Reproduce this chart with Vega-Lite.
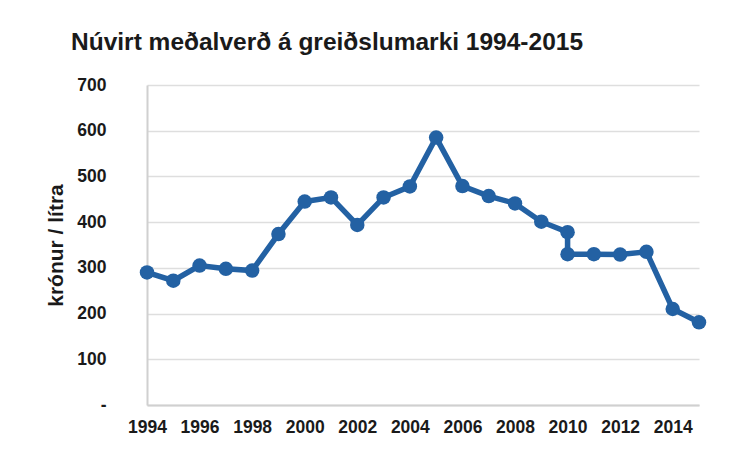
{
  "$schema": "https://vega.github.io/schema/vega-lite/v6.json",
  "width": 552,
  "height": 320,
  "autosize": {"type": "none"},
  "padding": {"left": 147, "top": 85, "right": 51, "bottom": 44},
  "background": "white",
  "title": {
    "text": "Núvirt meðalverð á greiðslumarki 1994-2015",
    "anchor": "start",
    "frame": "group",
    "dx": -76,
    "offset": 21,
    "font": "Liberation Sans",
    "fontSize": 24.5,
    "fontWeight": "bold",
    "color": "#1a1a1a"
  },
  "config": {
    "view": {"stroke": null},
    "axis": {
      "labelFont": "Liberation Sans",
      "labelFontWeight": "bold",
      "labelFontSize": 17.5,
      "labelColor": "#1a1a1a",
      "titleFont": "Liberation Sans",
      "titleFontWeight": "bold",
      "titleColor": "#1a1a1a",
      "domainColor": "#d0d0d0",
      "domainWidth": 2,
      "gridColor": "#dedede",
      "gridWidth": 1.5,
      "ticks": false
    }
  },
  "data": {
    "values": [
      {"i": 1, "year": 1994, "price": 290},
      {"i": 2, "year": 1995, "price": 272},
      {"i": 3, "year": 1996, "price": 305},
      {"i": 4, "year": 1997, "price": 298},
      {"i": 5, "year": 1998, "price": 294},
      {"i": 6, "year": 1999, "price": 374},
      {"i": 7, "year": 2000, "price": 445},
      {"i": 8, "year": 2001, "price": 454},
      {"i": 9, "year": 2002, "price": 394},
      {"i": 10, "year": 2003, "price": 454},
      {"i": 11, "year": 2004, "price": 478},
      {"i": 12, "year": 2005, "price": 585},
      {"i": 13, "year": 2006, "price": 479},
      {"i": 14, "year": 2007, "price": 457},
      {"i": 15, "year": 2008, "price": 441},
      {"i": 16, "year": 2009, "price": 401},
      {"i": 17, "year": 2010, "price": 378},
      {"i": 18, "year": 2010, "price": 330},
      {"i": 19, "year": 2011, "price": 330},
      {"i": 20, "year": 2012, "price": 329},
      {"i": 21, "year": 2013, "price": 335},
      {"i": 22, "year": 2014, "price": 210},
      {"i": 23, "year": 2015, "price": 181}
    ]
  },
  "encoding": {
    "x": {
      "field": "year",
      "type": "quantitative",
      "scale": {"domain": [1994, 2015], "nice": false, "zero": false},
      "axis": {
        "title": null,
        "values": [1994, 1996, 1998, 2000, 2002, 2004, 2006, 2008, 2010, 2012, 2014],
        "format": "d",
        "grid": false,
        "labelPadding": 13,
        "labelFlush": false
      }
    },
    "y": {
      "field": "price",
      "type": "quantitative",
      "scale": {"domain": [0, 700], "nice": false},
      "axis": {
        "title": "krónur / lítra",
        "titleFontSize": 21,
        "titlePadding": 10,
        "values": [0, 100, 200, 300, 400, 500, 600, 700],
        "labelExpr": "datum.value === 0 ? '-' : datum.label",
        "labelPadding": 41,
        "grid": true
      }
    },
    "order": {"field": "i", "type": "quantitative"}
  },
  "layer": [
    {"mark": {"type": "line", "color": "#2361a3", "strokeWidth": 5.5}},
    {"mark": {"type": "point", "filled": true, "color": "#2361a3", "opacity": 1, "size": 210}}
  ]
}
